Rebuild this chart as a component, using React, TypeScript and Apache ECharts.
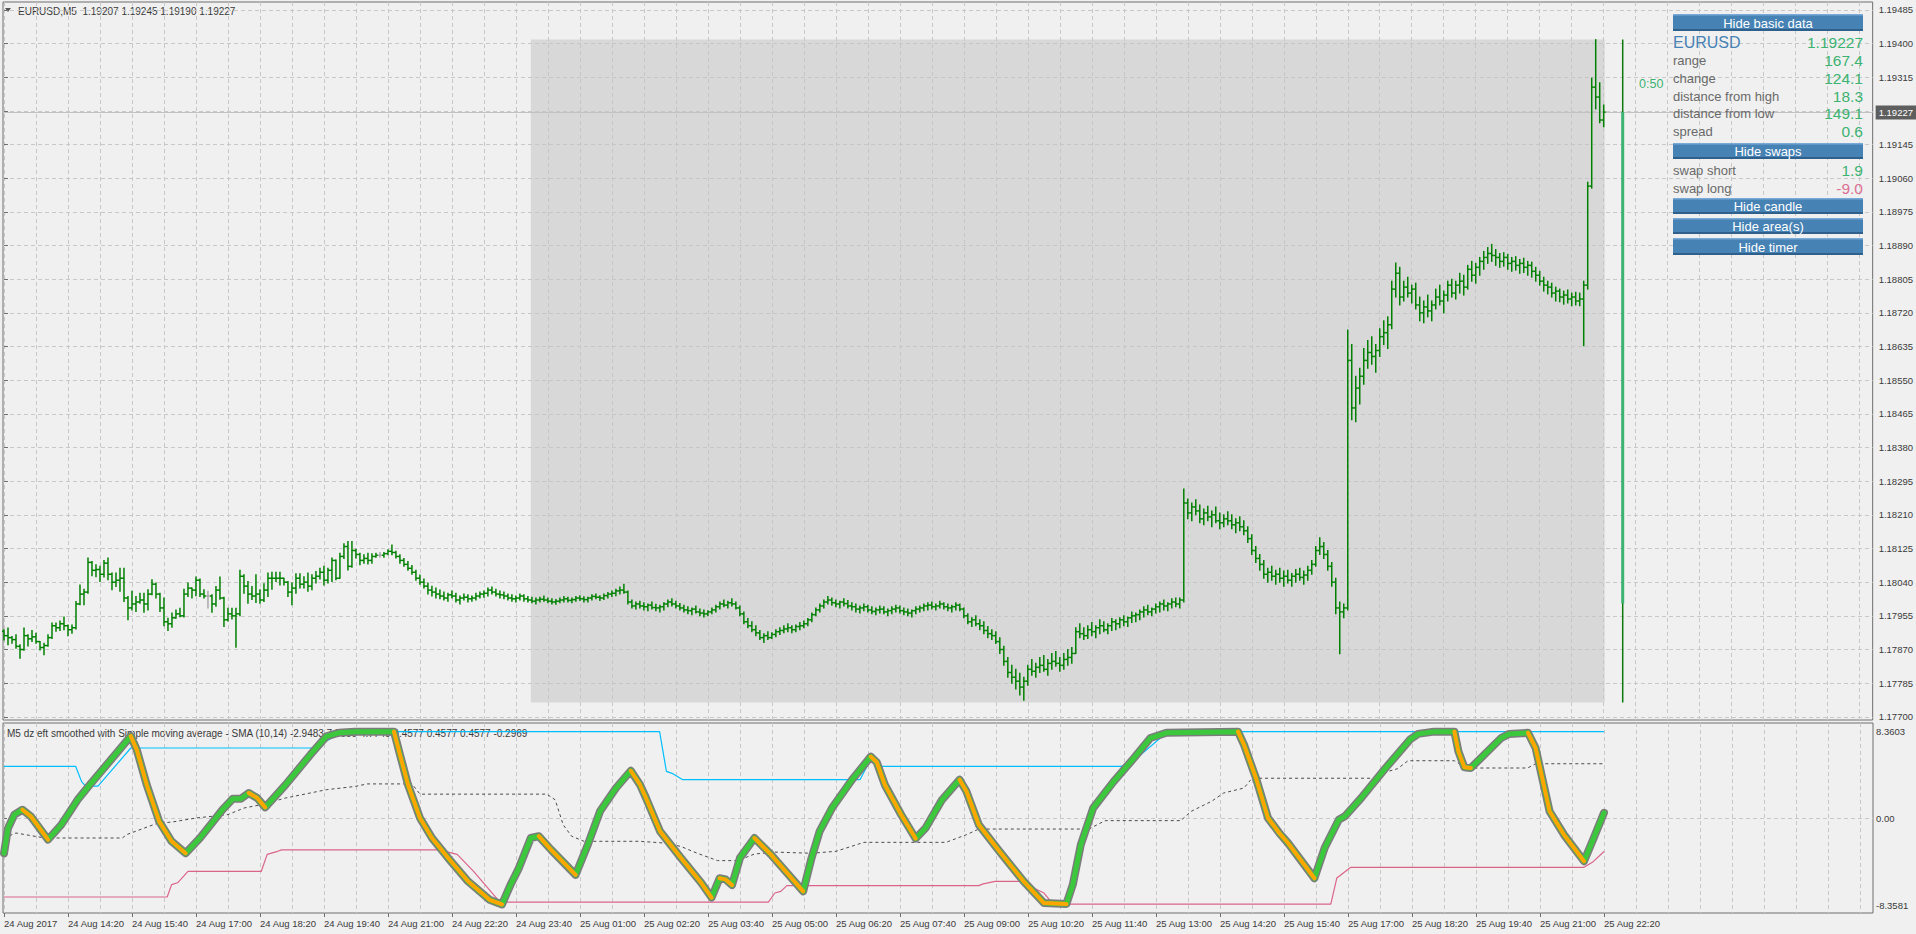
import React, { useEffect, useRef } from "react";
import * as echarts from "echarts";

// ---------- styling constants ----------
const FONT = '"Liberation Sans", Arial, sans-serif';
const BG = "#f0f0f0";
const GRID_LINE = "#c8c8c8";
const FRAME = "#6e6e6e";
const TEXT = "#3a3a3a";
const BAR_GREEN = "#008000";
const DOJI_GREY = "#a8a8a8";
const SEA_GREEN = "#3cb371";

// ---------- data ----------
const SYMBOL = "EURUSD";
const PERIOD = "M5";
const POINT_BASE = 1.17; // prices stored in points (0.00001) above 1.17000
const POINT = 0.00001;
const firstOpenPts = 916;
// [high, low, close] per M5 bar, in points above 1.17000 (open = previous close)
const barsHLC: number[][] = [
  [920,894,905],[924,882,900],[903,886,895],[907,873,878],[882,848,870],[924,868,905],[907,879,897],[918,890,902],[911,886,890],[890,869,875],
  [886,857,880],[907,878,900],[937,898,930],[937,916,925],[942,918,935],[952,920,930],[932,905,920],[932,911,925],[991,922,985],[1033,983,1010],
  [1022,983,1015],[1101,1012,1090],[1092,1056,1070],[1084,1054,1072],[1080,1042,1060],[1095,1053,1088],[1101,1046,1060],[1063,1021,1040],[1063,1029,1045],[1075,1017,1050],
  [1075,991,1000],[1004,945,975],[1017,970,985],[1004,966,990],[1012,987,995],[1012,964,985],[1021,970,1010],[1046,1008,1035],[1038,1000,1010],[1012,966,975],
  [1000,930,940],[949,918,935],[962,926,950],[970,949,960],[974,953,955],[1022,952,1010],[1038,1004,1025],[1025,1000,1020],[1053,1006,1045],[1048,1004,1010],
  [1021,1000,1005],[1017,975,1005],[1008,964,985],[1029,979,1020],[1053,997,1000],[1002,928,945],[974,942,960],[974,947,955],[974,876,960],[1070,955,1055],
  [1059,1012,1030],[1042,987,1010],[1029,996,1005],[1059,989,1010],[1021,987,995],[1036,991,1020],[1063,1004,1050],[1065,1022,1050],[1065,1042,1050],[1065,1033,1050],
  [1050,1033,1040],[1042,1004,1015],[1038,983,1025],[1061,1012,1050],[1061,1025,1035],[1054,1025,1040],[1063,1017,1030],[1059,1021,1050],[1067,1038,1055],[1075,1048,1065],
  [1080,1033,1045],[1075,1038,1070],[1101,1042,1095],[1096,1046,1050],[1113,1050,1105],[1137,1100,1130],[1143,1071,1080],[1143,1078,1120],[1123,1101,1110],[1113,1084,1095],
  [1109,1088,1100],[1113,1086,1095],[1112,1088,1105],[1113,1103,1108],[1115,1103,1108],[1115,1103,1112],[1122,1109,1118],[1134,1109,1115],[1118,1101,1105],[1109,1088,1095],
  [1100,1080,1085],[1092,1070,1075],[1082,1060,1065],[1070,1045,1050],[1058,1035,1040],[1048,1025,1030],[1038,1010,1020],[1030,1005,1015],[1025,1000,1010],[1020,998,1005],
  [1015,995,1000],[1012,992,1008],[1018,1000,1005],[1012,990,995],[1005,985,1000],[1010,995,1002],[1008,990,998],[1005,992,1000],[1012,995,1005],[1015,1000,1010],
  [1018,1002,1012],[1025,1005,1020],[1028,1010,1015],[1022,1005,1010],[1018,1000,1008],[1015,998,1005],[1010,995,1000],[1008,992,998],[1005,990,1000],[1010,995,1005],
  [1008,992,998],[1004,990,995],[1002,988,992],[1000,985,995],[1002,990,997],[1005,992,995],[1000,988,992],[998,985,990],[996,984,992],[1000,988,995],
  [1004,990,998],[1002,990,994],[1000,988,996],[1004,992,1000],[1006,994,998],[1003,990,996],[1002,990,1000],[1008,995,1004],[1010,998,1002],[1006,994,1000],
  [1010,996,1006],[1014,1000,1010],[1018,1004,1012],[1022,1006,1018],[1028,1010,1020],[1035,1012,1015],[1018,985,990],[995,975,980],[990,972,985],[992,975,980],
  [988,970,978],[985,968,982],[990,972,976],[984,968,975],[982,965,978],[988,970,985],[995,978,990],[998,980,985],[992,975,980],[986,970,975],
  [982,965,970],[978,960,968],[975,958,972],[980,962,965],[972,955,962],[970,952,960],[968,955,965],[975,960,970],[982,965,978],[990,972,985],
  [995,978,982],[992,975,988],[998,980,985],[990,972,975],[980,955,960],[965,935,940],[948,925,930],[940,915,920],[930,905,912],[918,895,900],
  [910,888,905],[915,895,900],[912,898,908],[920,902,915],[925,908,918],[930,912,922],[935,915,925],[930,912,920],[932,915,928],[938,920,930],
  [942,925,935],[948,930,945],[962,940,958],[975,955,970],[985,965,980],[995,975,990],[1004,985,995],[1000,982,988],[995,978,985],[992,975,990],
  [998,980,986],[994,975,980],[988,970,978],[985,965,972],[980,962,975],[985,968,978],[982,965,970],[978,960,966],[975,958,970],[980,962,972],
  [978,960,965],[972,955,968],[978,960,972],[982,965,975],[980,962,968],[975,958,965],[972,955,962],[970,952,968],[978,960,972],[980,965,975],
  [985,968,980],[988,970,982],[990,972,978],[985,970,980],[992,975,985],[988,972,978],[985,968,975],[982,965,978],[988,970,982],[985,968,972],
  [975,950,955],[960,935,940],[950,928,945],[955,930,935],[945,920,930],[940,910,918],[928,900,910],[920,895,905],[915,885,890],[900,860,870],
  [878,830,840],[850,800,812],[830,785,800],[820,770,790],[810,755,775],[800,742,790],[830,780,820],[845,805,815],[835,800,825],[850,812,830],
  [855,815,820],[845,805,835],[860,820,840],[865,828,835],[850,815,830],[860,820,845],[870,830,850],[875,835,860],[925,860,915],[935,900,910],
  [925,895,905],[930,898,920],[938,905,915],[930,900,925],[945,910,930],[940,915,920],[935,910,930],[948,918,940],[945,920,935],[950,925,945],
  [955,930,940],[952,928,950],[965,938,955],[962,940,958],[970,945,965],[978,952,970],[982,958,965],[975,955,972],[985,962,978],[990,965,985],
  [995,970,980],[988,968,985],[998,975,990],[1000,978,985],[1000,975,995],[1275,990,1240],[1250,1200,1215],[1240,1195,1230],[1248,1210,1220],[1235,1190,1200],
  [1225,1185,1215],[1232,1195,1205],[1220,1180,1210],[1230,1190,1195],[1215,1175,1190],[1210,1180,1200],[1218,1185,1195],[1210,1175,1185],[1200,1165,1190],[1205,1170,1180],
  [1195,1160,1170],[1180,1140,1150],[1160,1110,1120],[1130,1090,1100],[1110,1070,1085],[1095,1050,1060],[1075,1040,1065],[1080,1045,1055],[1070,1035,1060],[1075,1040,1050],
  [1068,1030,1055],[1070,1038,1045],[1062,1030,1055],[1072,1040,1060],[1075,1045,1052],[1068,1035,1058],[1080,1045,1070],[1095,1060,1085],[1130,1080,1120],[1152,1110,1130],
  [1140,1100,1110],[1120,1070,1080],[1090,1030,1040],[1050,960,975],[990,859,965],[985,950,975],[1677,970,1600],[1640,1450,1480],[1560,1445,1530],[1580,1490,1560],
  [1630,1540,1600],[1650,1580,1620],[1660,1590,1610],[1640,1570,1625],[1680,1610,1660],[1700,1640,1670],[1710,1630,1690],[1800,1680,1780],[1846,1760,1820],[1835,1740,1760],
  [1800,1750,1785],[1810,1760,1770],[1790,1745,1780],[1795,1730,1740],[1760,1700,1720],[1750,1695,1735],[1765,1710,1725],[1750,1700,1740],[1780,1730,1760],[1790,1740,1750],
  [1775,1720,1765],[1800,1750,1790],[1805,1760,1770],[1800,1755,1790],[1820,1770,1800],[1815,1765,1785],[1840,1780,1830],[1850,1800,1815],[1845,1795,1835],[1860,1815,1850],
  [1875,1830,1860],[1885,1845,1870],[1893,1850,1865],[1880,1840,1860],[1870,1835,1850],[1872,1838,1860],[1868,1830,1845],[1860,1825,1850],[1862,1828,1840],[1855,1820,1845],
  [1858,1822,1835],[1850,1815,1840],[1848,1810,1825],[1835,1800,1815],[1825,1790,1800],[1810,1775,1790],[1800,1768,1785],[1795,1760,1770],[1785,1750,1775],[1780,1748,1760],
  [1775,1742,1765],[1778,1745,1755],[1770,1738,1760],[1772,1740,1750],[1770,1738,1755],[1800,1637,1790],[2050,1780,2040],[2313,2035,2290],[2410,2235,2265],[2301,2200,2207],
  [2245,2190,2227],
];
const dojiBars = [51, 94];
const lastQuote = { open: 1.19207, high: 1.19245, low: 1.1919, close: 1.19227 };
const dayStartBar = 132; // 25 Aug 00:00
const dayCandle = { open: 1.17986, high: 1.1941, low: 1.17736, close: 1.19227 };
const spreadPips = 0.6;
const swapShort = 1.9;
const swapLong = -9.0;
const timerText = "0:50";

const priceTicks = [1.177, 1.17785, 1.1787, 1.17955, 1.1804, 1.18125, 1.1821, 1.18295, 1.1838, 1.18465, 1.1855,
  1.18635, 1.1872, 1.18805, 1.1889, 1.18975, 1.1906, 1.19145, 1.1923, 1.19315, 1.194, 1.19485];
const timeLabels = ["24 Aug 2017", "24 Aug 14:20", "24 Aug 15:40", "24 Aug 17:00", "24 Aug 18:20", "24 Aug 19:40",
  "24 Aug 21:00", "24 Aug 22:20", "24 Aug 23:40", "25 Aug 01:00", "25 Aug 02:20", "25 Aug 03:40", "25 Aug 05:00",
  "25 Aug 06:20", "25 Aug 07:40", "25 Aug 09:00", "25 Aug 10:20", "25 Aug 11:40", "25 Aug 13:00", "25 Aug 14:20",
  "25 Aug 15:40", "25 Aug 17:00", "25 Aug 18:20", "25 Aug 19:40", "25 Aug 21:00", "25 Aug 22:20"];

// indicator window
const indicatorName = "M5 dz eft smoothed with Simple moving average - SMA (10,14)";
const indicatorValues = ["-2.9483", "7.5999", "4.7749", "0.4577", "0.4577", "0.4577", "-0.2969"];
const indMin = -8.3581;
const indMax = 8.3603;
// [bar index, value]
const oscLine: number[][] = [
  [0,-3.1],[1,-0.9],[2.6,0.3],[4.6,0.73],[6.7,0.15],[11,-1.9],[14.3,-0.6],[18.4,1.6],[21.4,2.9],[31.7,7.2],
  [33.2,6.0],[35.7,2.9],[38.8,-0.3],[41.9,-2.05],[45.4,-3.1],[49,-1.76],[52,-0.44],[54.6,0.73],[57.2,1.7],[59.2,1.7],
  [61.2,2.2],[63.3,1.76],[65.3,0.94],[70.4,2.93],[76.6,5.57],[80.6,7.18],[83.7,7.5],[87.8,7.6],[97.5,7.6],[99,5.57],
  [101,2.93],[104,0],[107,-1.76],[111,-3.5],[116,-5.57],[121.4,-7.2],[124.5,-7.6],[126.6,-5.9],[128.6,-4.5],[131.7,-1.76],
  [133.7,-1.6],[136.8,-2.8],[142.9,-5.0],[146,-2.3],[149,0.59],[153,2.64],[156.7,4.16],[159,2.93],[160.5,1.76],[164,-1.17],
  [169.2,-3.5],[174.3,-5.7],[176.9,-7.0],[178.9,-5.3],[180.4,-5.4],[182,-5.9],[184,-3.5],[187.6,-1.76],[191.7,-3.2],[199.8,-6.45],
  [201.9,-3.5],[203.9,-1.17],[207,0.88],[212,3.37],[216.7,5.4],[218.2,4.9],[220.2,2.93],[224.3,0.29],[227.9,-1.8],[230.4,-0.88],
  [234.5,1.6],[238.9,3.37],[240.6,2.35],[243.7,-0.59],[248.8,-2.9],[254.9,-5.57],[260,-7.48],[265.6,-7.57],[267.2,-5.86],[269.2,-2.35],
  [272.3,0.88],[277.4,3.2],[282.5,5.28],[286.6,7.04],[290.6,7.5],[308.5,7.6],[310,6.45],[313,3.5],[316,0],[319,-1.4],
  [321,-2.2],[327.6,-5.3],[330.2,-2.6],[333.7,-0.15],[335.2,0.15],[339.3,1.76],[345.4,4.4],[351.5,6.9],[353.5,7.4],[357.5,7.6],
  [362.6,7.6],[363.6,5.86],[365.1,4.46],[366.7,4.4],[374.3,7.04],[376.3,7.4],[381,7.5],[382.9,6.16],[386.4,0.59],[390,-1.47],
  [395,-3.8],[397.1,-2.05],[400,0.4577],
];
const upperLine: number[][] = [
  [0,4.55],[17.9,4.55],[19.4,3.2],[20.4,2.8],[23.5,2.8],[31.7,6.16],[77.6,6.16],[82.7,7.2],[84,7.6],[163.9,7.6],
  [165.6,4.1],[167.2,3.9],[169.7,3.37],[214,3.37],[216.7,5.2],[218.5,4.55],[279.4,4.55],[283,5.2],[289.6,7.2],[291,7.6],
  [400,7.5999],
];
const lowerLine: number[][] = [
  [0,-6.95],[40.8,-6.95],[41.9,-5.86],[43.4,-5.7],[46,-4.7],[64.3,-4.7],[65.8,-3.2],[68.4,-2.93],[69.4,-2.8],[108.7,-2.8],
  [113.3,-3.2],[117.4,-4.7],[123.5,-7.2],[125,-7.4],[191.1,-7.4],[192.7,-6.6],[194.2,-6.45],[195.7,-5.95],[243.7,-5.95],[244.8,-5.8],
  [247.8,-5.57],[253.9,-5.57],[260,-6.6],[261.6,-7.3],[265.6,-7.57],[331.7,-7.57],[333.2,-5.28],[336.7,-4.34],[395,-4.34],[397.1,-3.9],
  [400,-2.9483],
];
const middleLine: number[][] = [
  [0,-1.76],[3,-1.32],[10.2,-1.76],[29.6,-1.76],[30.6,-1.47],[37.8,-0.53],[43,-0.3],[48,0],[56,0.3],[60,0.88],
  [64.3,1.17],[70.4,1.76],[80.6,2.49],[87.8,2.78],[90.8,3.0],[102,3.0],[104,2.1],[135.7,2.1],[137.8,1.6],[139.8,-0.6],
  [141.9,-1.6],[145,-2.05],[159,-2.05],[165,-2.2],[169.2,-2.5],[173.3,-3.1],[178.4,-3.75],[183.5,-3.75],[187.6,-3.17],[192.7,-3.0],
  [201.9,-3.1],[208,-2.93],[215,-2.14],[235.5,-2.14],[240.6,-1.47],[243.7,-0.97],[271.2,-0.97],[275.3,-0.23],[294.2,-0.23],[296.8,0.59],
  [301.9,1.47],[304.9,2.2],[310,2.64],[312,3.5],[342.3,3.5],[345,4.0],[348.4,4.34],[351,5.04],[362.6,5.04],[365.6,4.4],
  [380.9,4.4],[382.9,4.7749],[400,4.7749],
];

// ---------- helpers ----------
const toPrice = (p: number) => +(POINT_BASE + p * POINT).toFixed(5);
const lastBar = barsHLC.length - 1;
const X_MIN = -0.25;
const X_MAX = 467.25;

function buildOption(): any {
  const ohlc = barsHLC.map(([h, l, c], i) => [
    i,
    toPrice(i === 0 ? firstOpenPts : barsHLC[i - 1][2]),
    toPrice(h),
    toPrice(l),
    toPrice(c),
  ]);

  const gridBars: number[] = [];
  for (let v = 0; v <= 464; v += 8) gridBars.push(v);
  const labelBars = timeLabels.map((_, k) => k * 16);
  // the bid box covers the tick label nearest to the bid price
  const priceLabels = priceTicks.filter((p) => Math.abs(p - lastQuote.close) > 0.0002);

  const falling: any[] = [];
  for (let k = 0; k < oscLine.length - 1; k++) {
    const a = oscLine[k];
    const b = oscLine[k + 1];
    if (b[1] < a[1]) {
      if (falling[falling.length - 1] !== a) falling.push(a);
      falling.push(b);
    } else if (falling.length && falling[falling.length - 1][1] !== "-") {
      falling.push([a[0], "-"]);
    }
  }

  const pipRange = ((dayCandle.high - dayCandle.low) * 1e4).toFixed(1);
  const pipChange = ((dayCandle.close - dayCandle.open) * 1e4).toFixed(1);
  const pipFromHigh = ((dayCandle.high - dayCandle.close) * 1e4).toFixed(1);
  const pipFromLow = ((dayCandle.close - dayCandle.low) * 1e4).toFixed(1);

  const PX = 1673;
  const PW = 190;
  const buttons = [
    { text: "Hide basic data", top: 14, h: 17 },
    { text: "Hide swaps", top: 143, h: 16 },
    { text: "Hide candle", top: 198, h: 16 },
    { text: "Hide area(s)", top: 218, h: 16 },
    { text: "Hide timer", top: 238, h: 17 },
  ];
  const rows = [
    { label: "range", value: pipRange, y: 60, color: SEA_GREEN },
    { label: "change", value: pipChange, y: 78, color: SEA_GREEN },
    { label: "distance from high", value: pipFromHigh, y: 96, color: SEA_GREEN },
    { label: "distance from low", value: pipFromLow, y: 113, color: SEA_GREEN },
    { label: "spread", value: spreadPips.toFixed(1), y: 131, color: SEA_GREEN },
    { label: "swap short", value: swapShort.toFixed(1), y: 170, color: SEA_GREEN },
    { label: "swap long", value: swapLong.toFixed(1), y: 188, color: "#db7093" },
  ];

  const graphic: any[] = [];
  buttons.forEach((b) => {
    graphic.push({ type: "rect", z: 100, shape: { x: PX, y: b.top, width: PW, height: b.h }, style: { fill: "#4682b4" }, silent: true });
    graphic.push({ type: "rect", z: 100, shape: { x: PX, y: b.top, width: PW, height: 1.5 }, style: { fill: "#79a9d6" }, silent: true });
    graphic.push({ type: "rect", z: 100, shape: { x: PX, y: b.top + b.h - 2, width: PW, height: 2 }, style: { fill: "#2f5f8b" }, silent: true });
    graphic.push({
      type: "text", z: 101, x: PX + PW / 2, y: b.top + b.h / 2 + 0.5, silent: true,
      style: { text: b.text, fill: "#ffffff", fontSize: 13, fontFamily: FONT, align: "center", verticalAlign: "middle" },
    });
  });
  graphic.push({
    type: "text", z: 101, x: PX, y: 42, silent: true,
    style: { text: SYMBOL, fill: "#4682b4", fontSize: 16, fontFamily: FONT, align: "left", verticalAlign: "middle" },
  });
  graphic.push({
    type: "text", z: 101, x: PX + PW, y: 42, silent: true,
    style: { text: lastQuote.close.toFixed(5), fill: SEA_GREEN, fontSize: 15.5, fontFamily: FONT, align: "right", verticalAlign: "middle" },
  });
  rows.forEach((r) => {
    graphic.push({
      type: "text", z: 101, x: PX, y: r.y, silent: true,
      style: { text: r.label, fill: "#696969", fontSize: 13, fontFamily: FONT, align: "left", verticalAlign: "middle" },
    });
    graphic.push({
      type: "text", z: 101, x: PX + PW, y: r.y, silent: true,
      style: { text: r.value, fill: r.color, fontSize: 15.5, fontFamily: FONT, align: "right", verticalAlign: "middle" },
    });
  });
  // timer
  graphic.push({
    type: "text", x: 1639, y: 84, silent: true,
    style: { text: timerText, fill: SEA_GREEN, fontSize: 12.5, fontFamily: FONT, align: "left", verticalAlign: "middle" },
  });
  // main window header
  graphic.push({ type: "polygon", shape: { points: [[5, 8], [11, 8], [8, 12]] }, style: { fill: "#555" }, silent: true });
  graphic.push({
    type: "text", x: 18, y: 11, silent: true,
    style: {
      text: `${SYMBOL},${PERIOD}\u00a0 ${lastQuote.open.toFixed(5)} ${lastQuote.high.toFixed(5)} ${lastQuote.low.toFixed(5)} ${lastQuote.close.toFixed(5)}`,
      fill: TEXT, fontSize: 10, fontFamily: FONT, align: "left", verticalAlign: "middle",
    },
  });
  // indicator header
  graphic.push({
    type: "text", x: 7, y: 733, silent: true,
    style: {
      text: `${indicatorName} ${indicatorValues.join(" ")}`,
      fill: TEXT, fontSize: 10, fontFamily: FONT, align: "left", verticalAlign: "middle",
    },
  });

  const dash = [4, 3];
  const hiddenX = (gridIndex: number, position: string) => ({
    type: "value", gridIndex, position, min: X_MIN, max: X_MAX,
    axisLine: { show: false },
    axisTick: { show: false, customValues: gridBars },
    axisLabel: { show: false },
    splitLine: { show: true, lineStyle: { color: GRID_LINE, type: dash, width: 1 } },
  });

  return {
    animation: false,
    backgroundColor: BG,
    textStyle: { fontFamily: FONT },
    grid: [
      { left: 3, right: 43, top: 2, bottom: 214, show: true, borderColor: FRAME, borderWidth: 1, backgroundColor: "transparent" },
      { left: 3, right: 43, top: 723, bottom: 21, show: true, borderColor: FRAME, borderWidth: 1, backgroundColor: "transparent" },
    ],
    xAxis: [
      hiddenX(0, "bottom"),
      hiddenX(1, "top"),
      {
        type: "value", gridIndex: 1, position: "bottom", min: X_MIN, max: X_MAX,
        axisLine: { show: false },
        axisTick: { show: true, length: 4, customValues: labelBars, lineStyle: { color: FRAME } },
        axisLabel: {
          show: true, customValues: labelBars, showMinLabel: true, showMaxLabel: true,
          formatter: (v: number) => timeLabels[Math.round(v / 16)] ?? "",
          align: "left", margin: 5, fontSize: 9.5, color: TEXT, fontFamily: FONT,
        },
        splitLine: { show: false },
      },
    ],
    yAxis: [
      {
        type: "value", gridIndex: 0, position: "right", min: 1.17692, max: 1.19505,
        axisLine: { show: false },
        axisTick: { show: true, length: 4, customValues: priceTicks, lineStyle: { color: FRAME } },
        axisLabel: {
          show: true, customValues: priceLabels, formatter: (v: number) => v.toFixed(5),
          margin: 6, fontSize: 9.5, color: TEXT, fontFamily: FONT, align: "left",
        },
        splitLine: { show: true, lineStyle: { color: GRID_LINE, type: dash, width: 1 } },
      },
      {
        type: "value", gridIndex: 1, position: "right", min: indMin, max: indMax,
        axisLine: { show: false },
        axisTick: { show: true, length: 3, customValues: [0], lineStyle: { color: FRAME } },
        axisLabel: {
          show: true, customValues: [indMin, 0, indMax], showMinLabel: true, showMaxLabel: true,
          margin: 3, fontSize: 9.5, color: TEXT, fontFamily: FONT, align: "left",
          formatter: (v: number) =>
            v >= indMax - 1e-6 ? `{hi|${indMax.toFixed(4)}}` : v <= indMin + 1e-6 ? `{lo|${indMin.toFixed(4)}}` : "0.00",
          rich: {
            hi: { lineHeight: 26, verticalAlign: "bottom", fontSize: 9.5, color: TEXT, fontFamily: FONT },
            lo: { lineHeight: 26, verticalAlign: "top", fontSize: 9.5, color: TEXT, fontFamily: FONT },
          },
        },
        splitLine: { show: true, lineStyle: { color: GRID_LINE, type: dash, width: 1 } },
      },
    ],
    graphic,
    series: [
      {
        name: "day area",
        type: "line", xAxisIndex: 0, yAxisIndex: 0, z: 1, silent: true,
        data: [[dayStartBar, dayCandle.low]], showSymbol: false, symbol: "none",
        lineStyle: { width: 0 },
        markArea: {
          silent: true,
          itemStyle: { color: "rgba(196,196,196,0.55)" },
          data: [[{ xAxis: dayStartBar - 0.25, yAxis: dayCandle.low }, { xAxis: lastBar + 0.25, yAxis: dayCandle.high }]],
        },
      },
      {
        name: "bid",
        type: "custom", xAxisIndex: 0, yAxisIndex: 0, z: 1, silent: true, clip: false,
        data: [[lastBar, lastQuote.close]],
        encode: { x: 0, y: 1 },
        renderItem: (params: any, api: any) => {
          const cs = params.coordSys;
          const y = Math.round(api.coord([api.value(0), api.value(1)])[1]) + 0.5;
          return {
            type: "group",
            children: [
              { type: "line", shape: { x1: cs.x, y1: y, x2: cs.x + cs.width, y2: y }, style: { stroke: "#c2c2c2", lineWidth: 1 } },
              {
                type: "text", x: cs.x + cs.width + 3, y,
                style: {
                  text: api.value(1).toFixed(5), fill: "#ffffff", backgroundColor: "#5e5e5e",
                  padding: [2, 3, 2, 3], fontSize: 9.5, fontFamily: FONT, align: "left", verticalAlign: "middle",
                },
              },
            ],
          };
        },
      },
      {
        name: "bars",
        type: "custom", xAxisIndex: 0, yAxisIndex: 0, z: 2,
        data: ohlc,
        encode: { x: 0, y: [1, 2, 3, 4] },
        renderItem: (params: any, api: any) => {
          const i = api.value(0);
          const x = api.coord([i, api.value(2)])[0];
          const yO = api.coord([i, api.value(1)])[1];
          const yH = api.coord([i, api.value(2)])[1];
          const yL = api.coord([i, api.value(3)])[1];
          const yC = api.coord([i, api.value(4)])[1];
          const color = dojiBars.indexOf(i) >= 0 ? DOJI_GREY : BAR_GREEN;
          const st = { stroke: color, lineWidth: 1.5 };
          return {
            type: "group",
            children: [
              { type: "line", shape: { x1: x, y1: yH - 0.5, x2: x, y2: yL + 0.5 }, style: st },
              { type: "line", shape: { x1: x - 2, y1: yO, x2: x, y2: yO }, style: st },
              { type: "line", shape: { x1: x, y1: yC, x2: x + 2, y2: yC }, style: st },
            ],
          };
        },
      },
      {
        name: "day candle",
        type: "custom", xAxisIndex: 0, yAxisIndex: 0, z: 2,
        data: [[lastBar + 4.75, dayCandle.open, dayCandle.high, dayCandle.low, dayCandle.close]],
        encode: { x: 0, y: [1, 2, 3, 4] },
        renderItem: (params: any, api: any) => {
          const xi = api.value(0);
          const x = api.coord([xi, api.value(2)])[0];
          const yO = api.coord([xi, api.value(1)])[1];
          const yH = api.coord([xi, api.value(2)])[1];
          const yL = api.coord([xi, api.value(3)])[1];
          const yC = api.coord([xi, api.value(4)])[1];
          return {
            type: "group",
            children: [
              { type: "line", shape: { x1: x, y1: yH, x2: x, y2: yL }, style: { stroke: "#0a7a0a", lineWidth: 1.5 } },
              { type: "rect", shape: { x: x - 1.5, y: Math.min(yO, yC), width: 3, height: Math.abs(yO - yC) }, style: { fill: SEA_GREEN } },
            ],
          };
        },
      },
      {
        name: "upper", type: "line", xAxisIndex: 1, yAxisIndex: 1, z: 3, data: upperLine,
        showSymbol: false, symbol: "none", lineStyle: { color: "#00bfff", width: 1.2 },
      },
      {
        name: "lower", type: "line", xAxisIndex: 1, yAxisIndex: 1, z: 3, data: lowerLine,
        showSymbol: false, symbol: "none", lineStyle: { color: "#dc6489", width: 1.2 },
      },
      {
        name: "middle", type: "line", xAxisIndex: 1, yAxisIndex: 1, z: 3, data: middleLine,
        showSymbol: false, symbol: "none", lineStyle: { color: "#4a4a4a", width: 1, type: [3, 3] },
      },
      {
        name: "osc outline", type: "line", xAxisIndex: 1, yAxisIndex: 1, z: 4, data: oscLine,
        showSymbol: false, symbol: "none", lineStyle: { color: "#7c7c7c", width: 8, join: "round", cap: "round" },
      },
      {
        name: "osc", type: "line", xAxisIndex: 1, yAxisIndex: 1, z: 5, data: oscLine,
        showSymbol: false, symbol: "none", lineStyle: { color: "#3cc83c", width: 5, join: "round", cap: "round" },
      },
      {
        name: "osc falling", type: "line", xAxisIndex: 1, yAxisIndex: 1, z: 6, data: falling, connectNulls: false,
        showSymbol: false, symbol: "none", lineStyle: { color: "#ffa500", width: 4, join: "round", cap: "round" },
      },
    ],
  };
}

export default function App() {
  const ref = useRef<HTMLDivElement>(null);
  useEffect(() => {
    document.body.style.margin = "0";
    document.body.style.overflow = "hidden";
    const chart = echarts.init(ref.current as HTMLDivElement, null, { renderer: "svg" });
    chart.setOption(buildOption());
    return () => chart.dispose();
  }, []);
  return <div ref={ref} style={{ width: 1916, height: 934, background: BG }} />;
}
